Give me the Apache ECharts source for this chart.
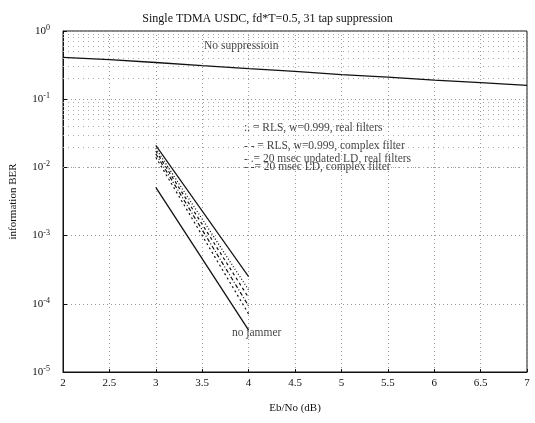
<!DOCTYPE html>
<html>
<head>
<meta charset="utf-8">
<script src="https://cdn.jsdelivr.net/npm/echarts@6/dist/echarts.min.js"></script>
<style>
html, body { margin: 0; padding: 0; background: #fff; }
#chart { width: 535px; height: 423px; }
</style>
</head>
<body>
<div id="chart"></div>
<script>
// Eb/No (dB)
const ebno = [2, 2.5, 3, 3.5, 4, 4.5, 5, 5.5, 6, 6.5, 7]
const noSuppression = [0.41, 0.38, 0.345, 0.31, 0.28, 0.255, 0.23, 0.21, 0.19, 0.175, 0.16]

// suppression curves, only 3 dB and 4 dB
const steepX = [3, 4]
const upperSolid = [0.021, 2.5e-4]
const rlsReal = [0.019, 1.6e-4]
const rlsComplex = [0.0174, 1.23e-4]
const ldReal = [0.0158, 9.3e-5]
const ldComplex = [0.0141, 7.1e-5]
const noJammer = [0.0051, 4.1e-5]

const xTicks = [2, 2.5, 3, 3.5, 4, 4.5, 5, 5.5, 6, 6.5, 7]

const legendLines = [
    ':. = RLS, w=0.999, real filters',
    '- - = RLS, w=0.999, complex filter',
    '- .= 20 msec updated LD, real filters',
    '- -= 20 msec LD, complex filter'
]

const font = '"Liberation Serif", "DejaVu Serif", serif'

const pairs = (xs, ys) => xs.map((x, i) => [x, ys[i]])

// log minor grid lines (2..9 in each decade)
const minorGrid = []
for (let e = -5; e < 0; e++) {
    for (let m = 2; m <= 9; m++) minorGrid.push({ yAxis: m * Math.pow(10, e) })
}

const chart = echarts.init(document.getElementById('chart'))

const line = (name, data, type, width) => ({
    name,
    type: 'line',
    data,
    symbol: 'none',
    silent: true,
    lineStyle: { color: '#111', width: width || 1.2, type: type || 'solid' },
    z: 5
})

const option = {
    animation: false,
    backgroundColor: '#fff',
    title: {
        text: 'Single TDMA USDC, fd*T=0.5, 31 tap suppression',
        left: 'center',
        top: 8,
        textStyle: { fontFamily: font, fontSize: 12, fontWeight: 'normal', color: '#111' }
    },
    grid: {
        left: 63, right: 8, top: 31, bottom: 51,
        show: true, borderColor: '#111', borderWidth: 1
    },
    xAxis: {
        type: 'value',
        min: 2, max: 7, interval: 0.5,
        name: 'Eb/No (dB)',
        nameLocation: 'middle',
        nameGap: 31,
        nameTextStyle: { fontFamily: font, fontSize: 11, color: '#111' },
        axisLine: { show: true, lineStyle: { color: '#111' } },
        axisTick: { show: true, inside: true, length: 3, lineStyle: { color: '#111' } },
        axisLabel: {
            fontFamily: font, fontSize: 11, color: '#111', margin: 6,
            formatter: v => xTicks.includes(v) ? String(v) : ''
        },
        splitLine: { show: true, lineStyle: { color: '#999', type: [1, 3], width: 1 } }
    },
    yAxis: {
        type: 'log',
        logBase: 10,
        min: 1e-5, max: 1,
        name: 'information BER',
        nameLocation: 'middle',
        nameGap: 44,
        nameTextStyle: { fontFamily: font, fontSize: 11, color: '#111' },
        axisLine: { show: true, lineStyle: { color: '#111' } },
        axisTick: { show: true, inside: true, length: 4, lineStyle: { color: '#111' } },
        axisLabel: {
            fontFamily: font, fontSize: 11, color: '#111', margin: 13,
            formatter: v => '{b|10}{s|' + Math.round(Math.log10(v)) + '}',
            rich: {
                b: { fontFamily: font, fontSize: 11, color: '#111' },
                s: { fontFamily: font, fontSize: 8, color: '#111', padding: [0, 0, 6, 0] }
            }
        },
        splitLine: { show: true, lineStyle: { color: '#999', type: [1, 3], width: 1 } }
    },
    series: [
        {
            type: 'line',
            data: [],
            silent: true,
            markLine: {
                silent: true,
                symbol: 'none',
                label: { show: false },
                lineStyle: { color: '#aaa', type: [1, 4], width: 1 },
                data: minorGrid
            }
        },
        line('No suppression', pairs(ebno, noSuppression), 'solid', 1.3),
        line('upper', pairs(steepX, upperSolid), 'solid', 1.2),
        line(legendLines[0], pairs(steepX, rlsReal), [1, 2], 1.3),
        line(legendLines[1], pairs(steepX, rlsComplex), [3, 3], 1.2),
        line(legendLines[2], pairs(steepX, ldReal), [4, 2, 1, 2], 1.2),
        line(legendLines[3], pairs(steepX, ldComplex), [2, 3], 1.2),
        line('no jammer', pairs(steepX, noJammer), 'solid', 1.3),
        {
            type: 'scatter',
            symbolSize: 0,
            silent: true,
            z: 6,
            label: {
                show: true,
                position: 'right',
                distance: 0,
                fontFamily: font,
                fontSize: 11.5,
                color: '#111',
                formatter: p => p.data.text
            },
            data: [
                { value: [3.52, 0.6], text: 'No suppressioin' },
                { value: [3.95, 0.038], text: legendLines[0] },
                { value: [3.95, 0.0206], text: legendLines[1] },
                { value: [3.95, 0.0133], text: legendLines[2] },
                { value: [3.95, 0.0101], text: legendLines[3] },
                { value: [3.82, 3.7e-5], text: 'no jammer' }
            ]
        }
    ]
}
chart.setOption(option)
</script>
</body>
</html>
